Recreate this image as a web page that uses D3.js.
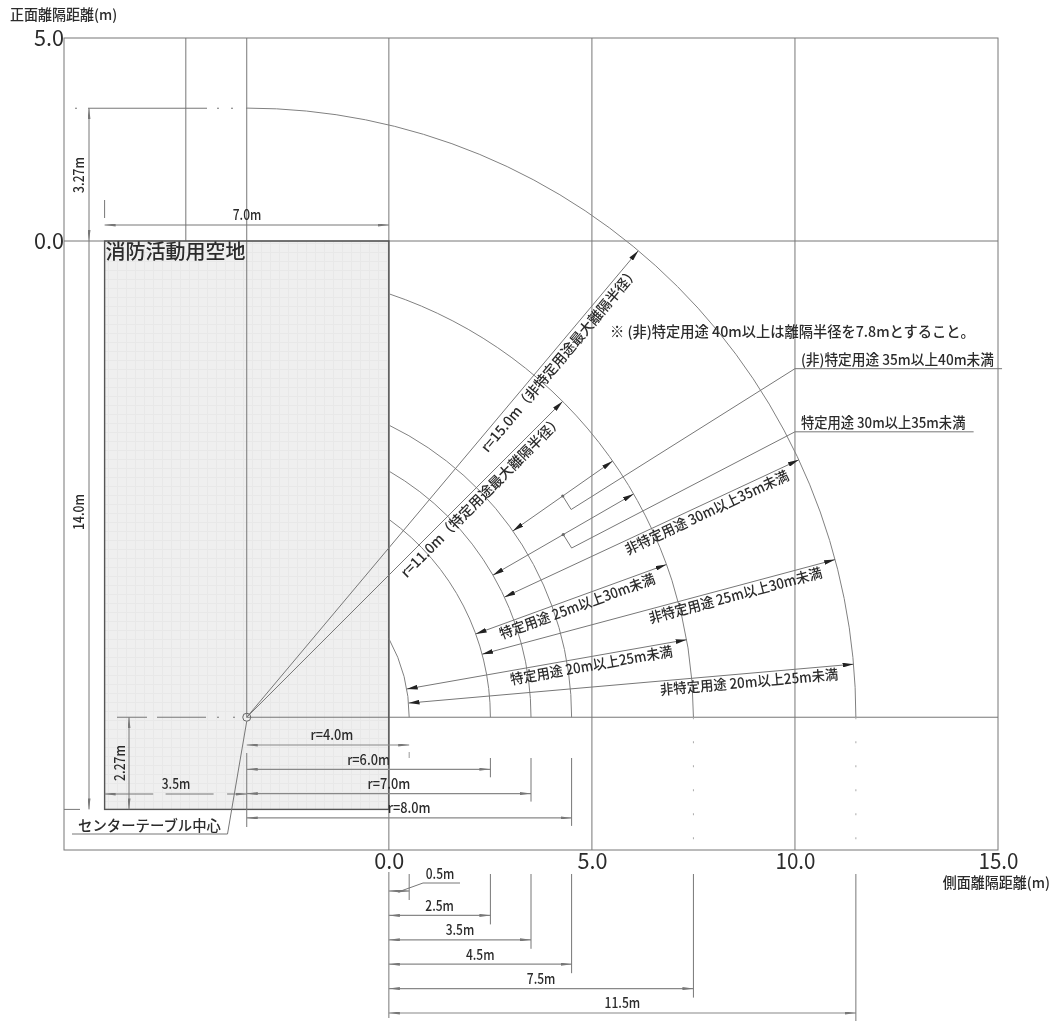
<!DOCTYPE html>
<html>
<head>
<meta charset="utf-8">
<script src="https://cdn.jsdelivr.net/npm/d3@7"></script>
<style>
html, body { margin: 0; background: #fff; }
svg { display: block; }
text { font-family: "Noto Sans CJK JP", "Noto Sans", sans-serif; fill: #2b2b2b; font-weight: 500; dominant-baseline: central; }
.tick text { font-weight: 400; }
</style>
</head>
<body>
<script>
'use strict';

// values, in metres
const xTicks = [0, 5, 10, 15];
const yTicks = [5, 0];
const xTitle = "側面離隔距離(m)";
const yTitle = "正面離隔距離(m)";

const padWidth = 7.0;
const padDepth = 14.0;
const padName = "消防活動用空地";
const centerName = "センターテーブル中心";
const centerFromRight = 3.5;
const centerFromBottom = 2.27;

const radii = [4, 6, 7, 8, 11, 15];
const sideDistances = [0.5, 2.5, 3.5, 4.5, 7.5, 11.5];
const radiusDims = [4, 6, 7, 8];

const dimAngles = [5, 10, 15, 20, 25, 30, 35];
const dimInner = [4, 4, 6, 6, 7, 7, 8];
const dimOuter = [15, 11, 15, 11, 15, 11, 11];
const dimLabels = [
    "非特定用途 20m以上25m未満",
    "特定用途 20m以上25m未満",
    "非特定用途 25m以上30m未満",
    "特定用途 25m以上30m未満",
    "非特定用途 30m以上35m未満"
];

const maxAngles = [50, 45];
const maxRadii = [15, 11];
const maxLabels = [
    "r=15.0m（非特定用途最大離隔半径）",
    "r=11.0m（特定用途最大離隔半径）"
];

const calloutAngles = [35, 30];
const calloutRadii = [9.5, 9];
const calloutLevels = [-3.145, -4.7];
const calloutEnds = [15.1, 14.4];
const calloutLabels = ["(非)特定用途 35m以上40m未満", "特定用途 30m以上35m未満"];
const note = "※ (非)特定用途 40m以上は離隔半径を7.8mとすること。";

const width = 1054;
const height = 1021;
const lineColor = "#777";

const x = d3.scaleLinear().domain([-8, 15]).range([64, 998]);
const y = d3.scaleLinear().domain([5, -15]).range([38, 850]);

const cx = -centerFromRight;
const cy = -padDepth + centerFromBottom;
const px = x(1) - x(0);

const svg = d3.select("body")
    .append("svg")
    .attr("width", width)
    .attr("height", height)
    .style("filter", "blur(0.35px)");

const defs = svg.append("defs");

function addMarker(id, color, len, half) {
    defs.append("marker")
        .attr("id", id)
        .attr("markerUnits", "userSpaceOnUse")
        .attr("viewBox", `${-len} ${-half} ${len} ${half * 2}`)
        .attr("refX", 0)
        .attr("refY", 0)
        .attr("markerWidth", len)
        .attr("markerHeight", half * 2)
        .attr("orient", "auto-start-reverse")
        .append("path")
        .attr("d", `M0,0L${-len},${-half}L${-len},${half}Z`)
        .attr("fill", color);
}
addMarker("solid", "#222", 11, 2.4);
addMarker("thin", "#777", 11, 1.5);

const mesh = defs.append("pattern")
    .attr("id", "mesh")
    .attr("patternUnits", "userSpaceOnUse")
    .attr("width", 9)
    .attr("height", 9);
mesh.append("rect").attr("width", 9).attr("height", 9).attr("fill", "#efefef");
mesh.append("path").attr("d", "M0,0H9M0,0V9").attr("stroke", "#e8e8e8").attr("stroke-width", 2);

function polar(r, deg) {
    const a = deg * Math.PI / 180;
    return [x(cx + r * Math.cos(a)), y(cy + r * Math.sin(a))];
}

function line(x1, y1, x2, y2, color, w) {
    return svg.append("line")
        .attr("x1", x1).attr("y1", y1)
        .attr("x2", x2).attr("y2", y2)
        .attr("stroke", color || lineColor)
        .attr("stroke-width", w || 1);
}

function arrows(sel, id) {
    return sel.attr("marker-start", `url(#${id})`).attr("marker-end", `url(#${id})`);
}

// half width latin, full width kana and kanji, like the CAD font
function textUnits(s) {
    return Array.from(s).reduce((sum, c) => sum + (c.charCodeAt(0) < 127 ? 0.5 : 1), 0);
}

function fit(sel, em, size) {
    sel.each(function () {
        const t = d3.select(this);
        t.attr("textLength", textUnits(t.text()) * em)
            .attr("lengthAdjust", "spacingAndGlyphs")
            .attr("dy", "-0.11em")
            .style("font-size", (size || em) + "px");
    });
    return sel;
}

function label(s, lx, ly, anchor, angle, em, size) {
    return fit(svg.append("text")
        .attr("transform", `translate(${lx},${ly}) rotate(${angle || 0})`)
        .attr("text-anchor", anchor || "middle")
        .text(s), em || 14.3, size);
}

// pad
svg.append("rect")
    .attr("x", x(-padWidth))
    .attr("y", y(0))
    .attr("width", x(0) - x(-padWidth))
    .attr("height", y(-padDepth) - y(0))
    .attr("fill", "url(#mesh)");

// frame and grid
svg.append("rect")
    .attr("x", x(-8)).attr("y", y(5))
    .attr("width", x(15) - x(-8)).attr("height", y(-15) - y(5))
    .attr("fill", "none").attr("stroke", lineColor);
line(x(-5), y(5), x(-5), y(0));
line(x(cx), y(5), x(cx), y(cy));
[0, 5, 10].forEach(v => line(x(v), y(5), x(v), y(-15)));
line(x(-8), y(0), x(15), y(0));
line(x(cx), y(cy), x(15), y(cy));

svg.append("rect")
    .attr("x", x(-padWidth))
    .attr("y", y(0))
    .attr("width", x(0) - x(-padWidth))
    .attr("height", y(-padDepth) - y(0))
    .attr("fill", "none")
    .attr("stroke", "#555")
    .attr("stroke-width", 1.4);

// axis labels
const xAxis = svg.append("g")
    .attr("transform", `translate(0,${y(-15) + 11})`)
    .call(d3.axisBottom(x).tickValues(xTicks).tickFormat(d3.format(".1f")).tickSize(0).tickPadding(0));
const yAxis = svg.append("g")
    .attr("transform", `translate(${x(-8)},0)`)
    .call(d3.axisLeft(y).tickValues(yTicks).tickFormat(d3.format(".1f")).tickSize(0).tickPadding(0));
[xAxis, yAxis].forEach(a => {
    a.select(".domain").remove();
    a.selectAll("text").attr("y", null).attr("dy", null).style("font-family", null);
    a.attr("font-family", null).attr("font-size", null);
    fit(a.selectAll("text"), 20, 22);
});
label(xTitle, 1050, 883, "end");
label(yTitle, 10, 15, "start");

// arcs about the center table, the smaller ones stop at the side line
radii.forEach(r => {
    const p = d3.path();
    const from = r === d3.max(radii) ? -Math.PI / 2 : -Math.acos(centerFromRight / r);
    p.arc(x(cx), y(cy), r * px, from, 0);
    svg.append("path")
        .attr("d", p.toString())
        .attr("fill", "none")
        .attr("stroke", "#808080");
});

// guides under the two largest radii
[7.5, 11.5].forEach(v => {
    line(x(v), y(cy), x(v), y(-15), "#aaa").attr("stroke-dasharray", "2 22");
});

// radial dimensions
dimAngles.forEach((a, i) => {
    const p0 = polar(dimInner[i], a);
    const p1 = polar(dimOuter[i], a);
    arrows(line(p0[0], p0[1], p1[0], p1[1]), "solid");
    if (dimLabels[i]) {
        const along = dimOuter[i] === 15 ? 12.4 : 8.58;
        const p = polar(along, a);
        const n = a * Math.PI / 180;
        label(dimLabels[i], p[0] + 9 * Math.sin(n), p[1] + 9 * Math.cos(n), "middle", -a);
    }
});

maxAngles.forEach((a, i) => {
    const p0 = polar(0, a);
    const p1 = polar(maxRadii[i], a);
    line(p0[0], p0[1], p1[0], p1[1]).attr("marker-end", "url(#solid)");
    const p = polar(maxRadii[i] === 15 ? 11.7 : 7.93, a);
    const n = a * Math.PI / 180;
    label(maxLabels[i], p[0] + 10 * Math.sin(n), p[1] + 10 * Math.cos(n), "middle", -a);
});

// callouts for the two dimensions labelled outside the arcs
calloutAngles.forEach((a, i) => {
    const p = polar(calloutRadii[i], a);
    svg.append("circle").attr("cx", p[0]).attr("cy", p[1]).attr("r", 1.6).attr("fill", "#666");
    svg.append("path")
        .attr("d", d3.line()([
            p,
            [p[0] + 8.4, p[1] + 13.5],
            [x(10), y(calloutLevels[i])],
            [x(calloutEnds[i]), y(calloutLevels[i])]
        ]))
        .attr("fill", "none")
        .attr("stroke", lineColor);
    label(calloutLabels[i], x(10) + 6, y(calloutLevels[i]) - 9, "start");
});
label(note, 610, 332, "start");

// dimensions left of and above the pad
const arcTop = y(cy + d3.max(radii));
line(75, arcTop, x(cx), arcTop).attr("stroke-dasharray", "2 11 119 10 2 12 2 13");
line(117, y(cy), x(cx) - 4, y(cy)).attr("stroke-dasharray", "30 10 49 11 2 14 2 11");
arrows(line(89, arcTop, 89, y(0)), "thin");
line(89, y(0), 89, y(-padDepth)).attr("marker-end", "url(#thin)");
line(x(-8), y(-padDepth), 80, y(-padDepth));
label(d3.format(".2f")(cy + d3.max(radii)) + "m", 79, 175, "middle", -90);
label(padDepth.toFixed(1) + "m", 79, 512, "middle", -90);

line(x(-padWidth), 200, x(-padWidth), 218);
arrows(line(x(-padWidth), 225, x(0), 225), "thin");
label(padWidth.toFixed(1) + "m", 247, 215);
label(padName, x(-padWidth) + 1, 253, "start", 0, 20);

arrows(line(129, y(cy), 129, y(-padDepth)), "thin");
label(centerFromBottom.toFixed(2) + "m", 120, 763, "middle", -90);
arrows(line(x(-padWidth), 794, x(cx), 794), "thin").attr("stroke-dasharray", "48.6 12.4 48 13.5 20");
label(centerFromRight.toFixed(1) + "m", 176, 784);

// center mark and its leader
svg.append("circle")
    .attr("cx", x(cx)).attr("cy", y(cy)).attr("r", 4)
    .attr("fill", "none").attr("stroke", "#666");
svg.append("path")
    .attr("d", d3.line()([[x(cx), y(cy) + 4], [227.5, 834], [72, 834]]))
    .attr("fill", "none")
    .attr("stroke", lineColor);
label(centerName, 78, 826, "start");
line(x(cx), 753, x(cx), 827);

// radius dimensions below the center
radiusDims.forEach((r, i) => {
    const rowY = 745 + i * 24.3;
    const end = x(cx + r);
    arrows(line(x(cx), rowY, end, rowY, "#888", 1.2), "thin");
    if (i === 0) {
        line(end, 752, end, 758, "#999");
    } else {
        line(end, 758, end, rowY + 8);
    }
    label("r=" + r.toFixed(1) + "m", (x(cx) + end) / 2 + (i === 0 ? 4 : 0), rowY - 9.5);
});

// side distances below the frame
line(x(0), 872, x(0), 1018);
sideDistances.forEach((v, i) => {
    const rowY = 891 + i * 24.4;
    const end = x(v);
    arrows(line(x(0), rowY, end, rowY, "#888", 1.2), "thin");
    line(end, 874, end, rowY + 9);
    if (i === 0) {
        svg.append("path")
            .attr("d", d3.line()([[x(0) + 12, rowY], [423, 883], [460, 883]]))
            .attr("fill", "none")
            .attr("stroke", lineColor);
        label(v.toFixed(1) + "m", 440, 874);
    } else {
        label(v.toFixed(1) + "m", (x(0) + end) / 2, rowY - 9.5);
    }
});
</script>
</body>
</html>
